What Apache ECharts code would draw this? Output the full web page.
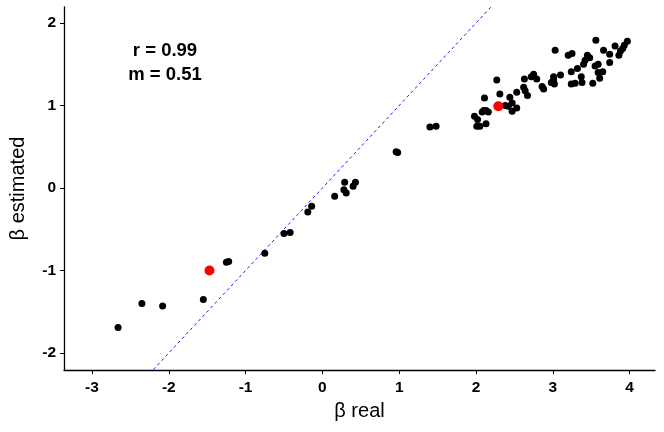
<!DOCTYPE html>
<html>
<head>
<meta charset="utf-8">
<script src="https://cdn.jsdelivr.net/npm/echarts@6/dist/echarts.min.js"></script>
<style>
  html, body { margin: 0; padding: 0; background: #fff; }
  #chart { width: 664px; height: 432px; }
</style>
</head>
<body>
<div id="chart"></div>
<script>
// black points: [beta real, beta estimated]
var betaReal = [-2.66, -2.35, -2.08, -1.55, -1.25, -1.22, -0.75, -0.50, -0.42, -0.19, -0.14,
  0.16, 0.28, 0.29, 0.31, 0.40, 0.43, 0.96, 0.98, 1.40, 1.48,
  3.56, 3.81, 3.97, 3.93, 3.91, 3.88, 3.86, 3.74, 3.66, 3.74,
  3.03, 3.20, 3.25, 3.45, 3.48, 3.42, 3.40, 3.55, 3.59, 3.32,
  3.24, 3.59, 3.65, 3.37, 3.61, 3.24, 3.29, 3.38, 3.52, 3.10,
  3.01, 3.01, 2.98, 3.02, 2.75, 2.72, 2.79, 2.86, 2.88, 2.63,
  2.53, 2.62, 2.64, 2.67, 2.27, 2.31, 2.44, 2.47, 2.42, 2.38,
  2.53, 2.47, 2.11, 2.10, 2.13, 2.16, 2.08, 1.98, 2.02, 2.13,
  2.01, 2.05];
var betaEst = [-1.69, -1.40, -1.43, -1.35, -0.90, -0.89, -0.79, -0.55, -0.54, -0.29, -0.22,
  -0.10, -0.02, 0.07, -0.06, 0.02, 0.07, 0.44, 0.43, 0.74, 0.75,
  1.79, 1.72, 1.78, 1.73, 1.69, 1.66, 1.61, 1.62, 1.67, 1.52,
  1.67, 1.61, 1.63, 1.61, 1.58, 1.55, 1.50, 1.48, 1.50, 1.45,
  1.41, 1.40, 1.41, 1.35, 1.33, 1.26, 1.27, 1.28, 1.27, 1.37,
  1.35, 1.31, 1.28, 1.26, 1.38, 1.35, 1.32, 1.23, 1.20, 1.32,
  1.16, 1.22, 1.18, 1.12, 1.31, 1.14, 1.10, 1.03, 0.99, 1.00,
  0.97, 0.93, 1.09, 0.94, 0.94, 0.92, 0.92, 0.87, 0.83, 0.78,
  0.75, 0.75];

// highlighted points
var redReal = [-1.47, 2.29];
var redEst = [-1.0, 0.99];

// identity line ends (y = x)
var identityEnds = [-2.2, 2.2];

var xTicks = [-3, -2, -1, 0, 1, 2, 3, 4];
var yTicks = [-2, -1, 0, 1, 2];
var stats = ['r = 0.99', 'm = 0.51'];

var font = 'Liberation Sans, Arial, sans-serif';

function pairs(a, b) {
  return a.map(function (v, i) { return [v, b[i]]; });
}

var myChart = echarts.init(document.getElementById('chart'), null, { renderer: 'canvas' });

var axisCommon = {
  type: 'value',
  splitLine: { show: false },
  axisLine: { show: true, onZero: false, lineStyle: { color: '#000', width: 1.3 } },
  nameTextStyle: { fontFamily: font, fontSize: 20, color: '#000' }
};

option = {
  animation: false,
  backgroundColor: '#fff',
  grid: { left: 61, right: 9, top: 7, bottom: 62 },
  xAxis: Object.assign({}, axisCommon, {
    min: -3.364,
    max: 4.33,
    name: 'β real',
    nameLocation: 'middle',
    nameGap: 31,
    axisTick: { show: true, length: 4, customValues: xTicks, lineStyle: { color: '#000', width: 1 } },
    axisLabel: { customValues: xTicks, margin: 10, fontFamily: font, fontSize: 15.5, fontWeight: 'bold', color: '#000' }
  }),
  yAxis: Object.assign({}, axisCommon, {
    min: -2.206,
    max: 2.194,
    name: 'β estimated',
    nameLocation: 'middle',
    nameGap: 36,
    axisTick: { show: true, length: 4, customValues: yTicks, lineStyle: { color: '#000', width: 1 } },
    axisLabel: { customValues: yTicks, margin: 8, fontFamily: font, fontSize: 15.5, fontWeight: 'bold', color: '#000' }
  }),
  graphic: stats.map(function (s, i) {
    return {
      type: 'text',
      x: 165,
      y: 51 + i * 24,
      style: {
        text: s,
        textAlign: 'center',
        textVerticalAlign: 'middle',
        fill: '#000',
        font: 'bold 18.5px ' + font
      }
    };
  }),
  series: [
    {
      type: 'line',
      data: pairs(identityEnds, identityEnds),
      symbol: 'none',
      lineStyle: { color: '#0000ff', width: 0.9, type: [3, 3] },
      z: 1
    },
    {
      type: 'scatter',
      data: pairs(betaReal, betaEst),
      symbolSize: 7,
      itemStyle: { color: '#000', opacity: 1 },
      z: 2
    },
    {
      type: 'scatter',
      data: pairs(redReal, redEst),
      symbolSize: 10,
      itemStyle: { color: '#ff0000', opacity: 1 },
      z: 3
    }
  ]
};

option && myChart.setOption(option);
</script>
</body>
</html>
